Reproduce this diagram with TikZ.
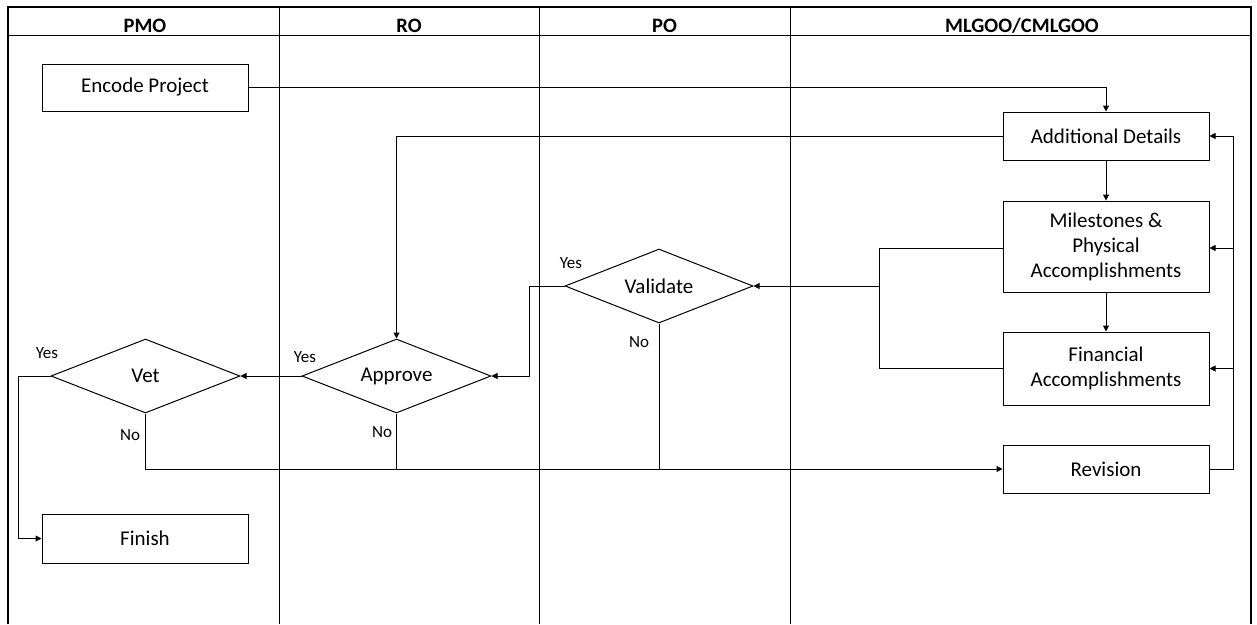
\documentclass[tikz,border=0pt]{standalone}
\usepackage{fontspec}
\setmainfont{Carlito}
\usetikzlibrary{shapes.geometric,arrows.meta}
\begin{document}
\begin{tikzpicture}[x=1pt,y=-1pt,
  box/.style={draw,line width=1pt,rectangle,inner sep=0pt,minimum width=206pt,font=\fontsize{21}{25}\selectfont,align=center},
  dec/.style={draw,line width=1pt,diamond,aspect=2.55,inner sep=0pt,minimum width=189pt,minimum height=74pt,font=\fontsize{21}{25}\selectfont},
  hdr/.style={font=\fontsize{20.5}{24}\selectfont\bfseries,anchor=base,inner sep=0pt},
  lbl/.style={font=\fontsize{17}{20}\selectfont,inner sep=0pt},
  con/.style={line width=1pt},
  arr/.style={line width=1pt,-{Triangle[length=6pt,width=6pt]}}]
\useasboundingbox (0,0) rectangle (1257,624);
\fill[white] (0,0) rectangle (1257,624);
% frame and lanes
\draw[line width=2.5pt] (8,624) -- (8,7) -- (1251,7) -- (1251,624);
\draw[line width=1pt] (8,35) -- (1251,35);
\draw[line width=1pt] (279,7) -- (279,624);
\draw[line width=1pt] (539,7) -- (539,624);
\draw[line width=1pt] (790,7) -- (790,624);
\node[hdr] (hpmo) at (145,32) {PMO};
\node[hdr] (hro) at (409,32) {RO};
\node[hdr] (hpo) at (664.5,32) {PO};
\node[hdr] (hml) at (1022,32) {MLGOO/CMLGOO};
% nodes
\node[box,minimum height=47pt] (enc) at (145,87.5) {Encode Project};
\node[box,minimum height=48pt] (add) at (1106,136) {Additional Details};
\node[box,minimum height=91pt] (mil) at (1106,246.5) {Milestones \&\\Physical\\Accomplishments};
\node[box,minimum height=73pt] (fin) at (1106,368.5) {Financial\\Accomplishments};
\node[box,minimum height=48pt] (rev) at (1106,469) {Revision};
\node[box,minimum height=49pt] (fsh) at (145,538.5) {Finish};
\node[dec] (vet) at (145.5,376) {Vet};
\node[dec] (app) at (396.5,376) {Approve};
\node[dec,minimum width=188pt] (val) at (659,286) {Validate};
% labels
\node[lbl] (l1) at (47,353) {Yes};
\node[lbl] (l2) at (130,435) {No};
\node[lbl] (l3) at (305,357) {Yes};
\node[lbl] (l4) at (382,432) {No};
\node[lbl] (l5) at (571,263) {Yes};
\node[lbl] (l6) at (639,342) {No};
% coordinates
\coordinate (vj) at (529,286);
\coordinate (mj) at (879,248);
\coordinate (vm) at (879,286);
\coordinate (fb) at (1233,469);
\coordinate (yj) at (18,376);
% connectors
\draw[arr] (enc.east) -| (add.north);
\draw[arr] (add.west) -| (app.north);
\draw[arr] (add.south) -- (mil.north);
\draw[arr] (mil.south) -- (fin.north);
\draw[con] (mil.west |- mj) -- (mj) |- (fin.west);
\draw[arr] (vm) -- (val.east);
\draw[arr] (val.west) -- (vj) |- (app.east);
\draw[arr] (app.west) -- (vet.east);
\draw[arr] (vet.west) -- (yj) |- (fsh.west);
\draw[arr] (vet.south) |- (rev.west);
\draw[con] (app.south) -- (app.south |- rev.west);
\draw[con] (val.south) -- (val.south |- rev.west);
\draw[con] (rev.east) -- (fb) -- (fb |- add.east);
\draw[arr] (fb |- add.east) -- (add.east);
\draw[arr] (fb |- mj) -- (mil.east |- mj);
\draw[arr] (fb |- fin.east) -- (fin.east);
\end{tikzpicture}
\end{document}
